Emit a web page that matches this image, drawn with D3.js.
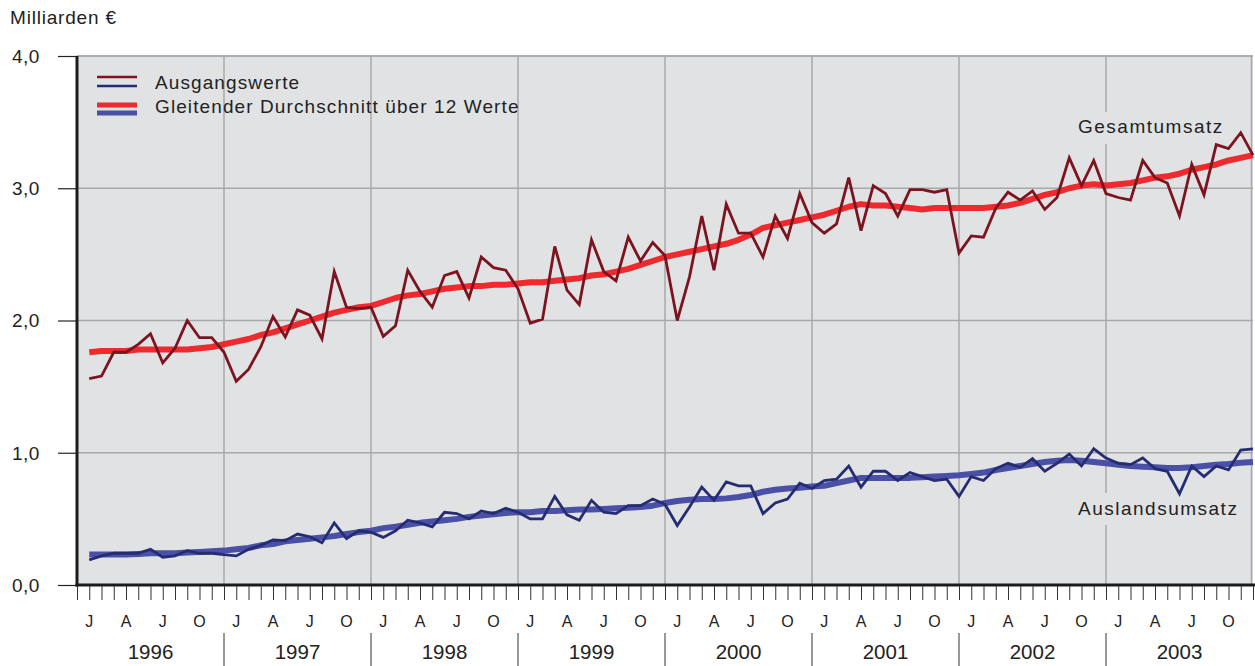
<!DOCTYPE html>
<html lang="de">
<head>
<meta charset="UTF-8">
<title>Umsatz</title>
<script src="https://cdn.jsdelivr.net/npm/d3@7"></script>
<style>
  body { margin: 0; background: #fff; }
  svg text { font-family: "Liberation Sans", Arial, sans-serif; fill: #222; }
</style>
</head>
<body>
<svg id="chart" width="1255" height="666"></svg>
<script>
// monthly values, Jan 1996 .. Dec 2003 (Mrd. Euro)
const years = ["1996","1997","1998","1999","2000","2001","2002","2003"];
const monthLabels = ["J","","","A","","","J","","","O","",""];
const yTicks = [0, 1, 2, 3, 4];

const gesamtRaw = [
  1.56,1.58,1.76,1.76,1.82,1.90,1.68,1.79,2.00,1.87,1.87,1.76,
  1.54,1.63,1.80,2.03,1.875,2.08,2.04,1.86,2.37,2.10,2.09,2.10,
  1.88,1.96,2.38,2.22,2.10,2.34,2.37,2.17,2.48,2.40,2.38,2.24,
  1.98,2.01,2.56,2.23,2.12,2.61,2.37,2.30,2.63,2.45,2.59,2.49,
  2.00,2.33,2.79,2.38,2.88,2.66,2.66,2.48,2.79,2.62,2.96,2.74,
  2.66,2.73,3.08,2.68,3.02,2.96,2.79,2.99,2.99,2.97,2.99,2.51,
  2.64,2.63,2.85,2.97,2.91,2.98,2.84,2.93,3.23,3.02,3.21,2.96,
  2.93,2.91,3.21,3.08,3.04,2.79,3.18,2.95,3.33,3.30,3.42,3.25
];
const gesamtAvg = [
  1.76,1.77,1.77,1.77,1.78,1.78,1.78,1.78,1.78,1.79,1.80,1.82,
  1.84,1.86,1.89,1.91,1.94,1.97,2.00,2.03,2.06,2.08,2.10,2.11,
  2.14,2.17,2.19,2.20,2.22,2.24,2.25,2.26,2.26,2.27,2.27,2.28,
  2.29,2.29,2.30,2.31,2.32,2.34,2.35,2.37,2.39,2.42,2.45,2.48,
  2.50,2.52,2.54,2.56,2.58,2.61,2.65,2.70,2.72,2.74,2.76,2.78,
  2.80,2.83,2.86,2.88,2.87,2.87,2.86,2.85,2.84,2.85,2.85,2.85,
  2.85,2.85,2.86,2.87,2.89,2.92,2.95,2.97,3.00,3.02,3.03,3.02,
  3.03,3.04,3.06,3.08,3.09,3.11,3.14,3.16,3.18,3.21,3.23,3.25
];
const auslandRaw = [
  0.19,0.22,0.24,0.24,0.24,0.27,0.21,0.22,0.26,0.24,0.24,0.23,
  0.22,0.27,0.30,0.34,0.335,0.385,0.365,0.32,0.47,0.35,0.41,0.40,
  0.36,0.41,0.49,0.47,0.44,0.55,0.54,0.50,0.56,0.54,0.58,0.55,
  0.50,0.50,0.67,0.53,0.49,0.64,0.55,0.54,0.60,0.60,0.65,0.61,
  0.45,0.59,0.74,0.64,0.78,0.75,0.75,0.54,0.62,0.65,0.77,0.73,
  0.79,0.80,0.90,0.74,0.86,0.86,0.79,0.85,0.82,0.79,0.80,0.67,
  0.82,0.79,0.88,0.92,0.89,0.955,0.86,0.92,0.99,0.90,1.03,0.96,
  0.92,0.91,0.96,0.88,0.86,0.69,0.90,0.82,0.90,0.87,1.02,1.03
];
const auslandAvg = [
  0.23,0.23,0.23,0.23,0.235,0.24,0.24,0.24,0.245,0.25,0.255,0.26,
  0.27,0.28,0.30,0.31,0.33,0.34,0.35,0.36,0.37,0.385,0.40,0.41,
  0.43,0.44,0.455,0.47,0.48,0.49,0.50,0.515,0.525,0.535,0.545,0.55,
  0.55,0.56,0.56,0.565,0.57,0.57,0.575,0.58,0.585,0.59,0.60,0.62,
  0.635,0.645,0.65,0.65,0.655,0.665,0.68,0.705,0.72,0.73,0.735,0.745,
  0.75,0.77,0.79,0.81,0.81,0.81,0.81,0.81,0.815,0.82,0.825,0.83,
  0.84,0.85,0.87,0.885,0.90,0.915,0.93,0.94,0.945,0.94,0.93,0.92,
  0.91,0.90,0.895,0.89,0.885,0.885,0.89,0.90,0.91,0.915,0.925,0.93
];

const bg = "#e1e2e4", grid = "#a8a8aa";
const plot = { left: 77, right: 1253, top: 56, bottom: 585 };
const nMonths = years.length * 12;

const svg = d3.select("#chart");

// month index scale: point i sits at the end of month i
const x = d3.scaleLinear().domain([0, nMonths]).range([plot.left, plot.right]);
const y = d3.scaleLinear().domain([0, 4]).range([plot.bottom, plot.top]);

svg.append("rect")
  .attr("x", plot.left).attr("y", plot.top)
  .attr("width", plot.right - plot.left).attr("height", plot.bottom - plot.top)
  .attr("fill", bg);

// horizontal grid
svg.selectAll("line.hgrid")
  .data(yTicks.filter(d => d > 0))
  .enter().append("line")
  .attr("class", "hgrid")
  .attr("x1", plot.left).attr("x2", plot.right)
  .attr("y1", d => y(d)).attr("y2", d => y(d))
  .attr("stroke", grid).attr("stroke-width", 1.5);

// vertical grid at year boundaries (and right edge)
svg.selectAll("line.vgrid")
  .data(d3.range(1, years.length + 1))
  .enter().append("line")
  .attr("class", "vgrid")
  .attr("x1", d => x(d * 12) - (d === years.length ? 1.5 : 0))
  .attr("x2", d => x(d * 12) - (d === years.length ? 1.5 : 0))
  .attr("y1", plot.top).attr("y2", plot.bottom)
  .attr("stroke", grid).attr("stroke-width", 1.5);

// y axis
const yAxis = d3.axisLeft(y)
  .tickValues(yTicks)
  .tickSize(19)
  .tickFormat(d => d3.format(".1f")(d).replace(".", ","));
const gy = svg.append("g").attr("transform", `translate(${plot.left},0)`).call(yAxis);
gy.select(".domain").remove();
gy.selectAll(".tick line").attr("stroke", "#222").attr("stroke-width", 1.2);
gy.selectAll(".tick text")
  .attr("font-size", 19)
  .attr("text-anchor", "start")
  .attr("x", -65)
  .attr("dy", "0.34em")
  .attr("letter-spacing", 0.5)
  .style("font-family", "Liberation Sans, Arial, sans-serif")
  .attr("fill", "#222");

// lines
const line = d3.line()
  .x((d, i) => x(i + 1))
  .y(d => y(d));

svg.append("path").datum(gesamtAvg)
  .attr("d", line).attr("fill", "none")
  .attr("stroke", "#ee2a2e").attr("stroke-width", 6)
  .attr("stroke-linejoin", "round");
svg.append("path").datum(gesamtRaw)
  .attr("d", line).attr("fill", "none")
  .attr("stroke", "#7c1420").attr("stroke-width", 2.8)
  .attr("stroke-linejoin", "miter");
svg.append("path").datum(auslandAvg)
  .attr("d", line).attr("fill", "none")
  .attr("stroke", "#4a50a6").attr("stroke-width", 6)
  .attr("stroke-linejoin", "round");
svg.append("path").datum(auslandRaw)
  .attr("d", line).attr("fill", "none")
  .attr("stroke", "#262c72").attr("stroke-width", 2.8)
  .attr("stroke-linejoin", "miter");

// top border line of the plot
svg.append("line")
  .attr("x1", plot.left).attr("x2", plot.right)
  .attr("y1", plot.top).attr("y2", plot.top)
  .attr("stroke", grid).attr("stroke-width", 1.5);

// axis frame
svg.append("line")
  .attr("x1", plot.left).attr("x2", plot.left)
  .attr("y1", plot.top).attr("y2", plot.bottom + 1.5)
  .attr("stroke", "#1c1c1c").attr("stroke-width", 3);
svg.append("line")
  .attr("x1", plot.left - 1.5).attr("x2", 1255)
  .attr("y1", plot.bottom).attr("y2", plot.bottom)
  .attr("stroke", "#1c1c1c").attr("stroke-width", 3);

// month ticks
const xAxis = d3.axisBottom(x)
  .tickValues(d3.range(0, nMonths + 1))
  .tickSize(14)
  .tickFormat("");
const gx = svg.append("g").attr("transform", `translate(0,${plot.bottom + 1})`).call(xAxis);
gx.select(".domain").remove();
gx.selectAll(".tick line").attr("stroke", "#333").attr("stroke-width", 1);

// month letters
svg.selectAll("text.month")
  .data(d3.range(nMonths).filter(i => monthLabels[i % 12] !== ""))
  .enter().append("text")
  .attr("class", "month")
  .attr("x", i => x(i + 1))
  .attr("y", 627)
  .attr("text-anchor", "middle")
  .attr("font-size", 16)
  .text(i => monthLabels[i % 12]);

// year labels and separators
svg.selectAll("text.year")
  .data(years)
  .enter().append("text")
  .attr("class", "year")
  .attr("x", (d, i) => x(i * 12 + 6))
  .attr("y", 659)
  .attr("text-anchor", "middle")
  .attr("font-size", 20.5)
  .text(d => d);
svg.selectAll("line.ysep")
  .data(d3.range(1, years.length))
  .enter().append("line")
  .attr("class", "ysep")
  .attr("x1", d => x(d * 12)).attr("x2", d => x(d * 12))
  .attr("y1", 633).attr("y2", 666)
  .attr("stroke", "#333").attr("stroke-width", 1);

// series labels (cut the grid lines behind them)
const seriesLabels = [
  { text: "Gesamtumsatz", x: 1078, y: 133, box: [1098, 112, 14, 32] },
  { text: "Auslandsumsatz", x: 1078, y: 515, box: [1098, 493, 14, 32] }
];
seriesLabels.forEach(s => {
  svg.append("rect")
    .attr("x", s.box[0]).attr("y", s.box[1])
    .attr("width", s.box[2]).attr("height", s.box[3])
    .attr("fill", bg);
  svg.append("text")
    .attr("x", s.x).attr("y", s.y)
    .attr("font-size", 19)
    .attr("letter-spacing", 1.5)
    .text(s.text);
});

// legend
const legend = [
  { label: "Ausgangswerte", colors: ["#7c1420", "#262c72"], w: 2.6, ys: [77, 86], ty: 89 },
  { label: "Gleitender Durchschnitt über 12 Werte", colors: ["#ee2a2e", "#4a50a6"], w: 5, ys: [105, 113], ty: 113 }
];
legend.forEach(l => {
  l.colors.forEach((c, k) => {
    svg.append("line")
      .attr("x1", 97).attr("x2", 137)
      .attr("y1", l.ys[k]).attr("y2", l.ys[k])
      .attr("stroke", c).attr("stroke-width", l.w);
  });
  svg.append("text")
    .attr("x", 155).attr("y", l.ty)
    .attr("font-size", 19)
    .attr("letter-spacing", 1.1)
    .text(l.label);
});

// unit
svg.append("text")
  .attr("x", 10).attr("y", 24)
  .attr("font-size", 19)
  .attr("letter-spacing", 0.8)
  .text("Milliarden €");
</script>
</body>
</html>
